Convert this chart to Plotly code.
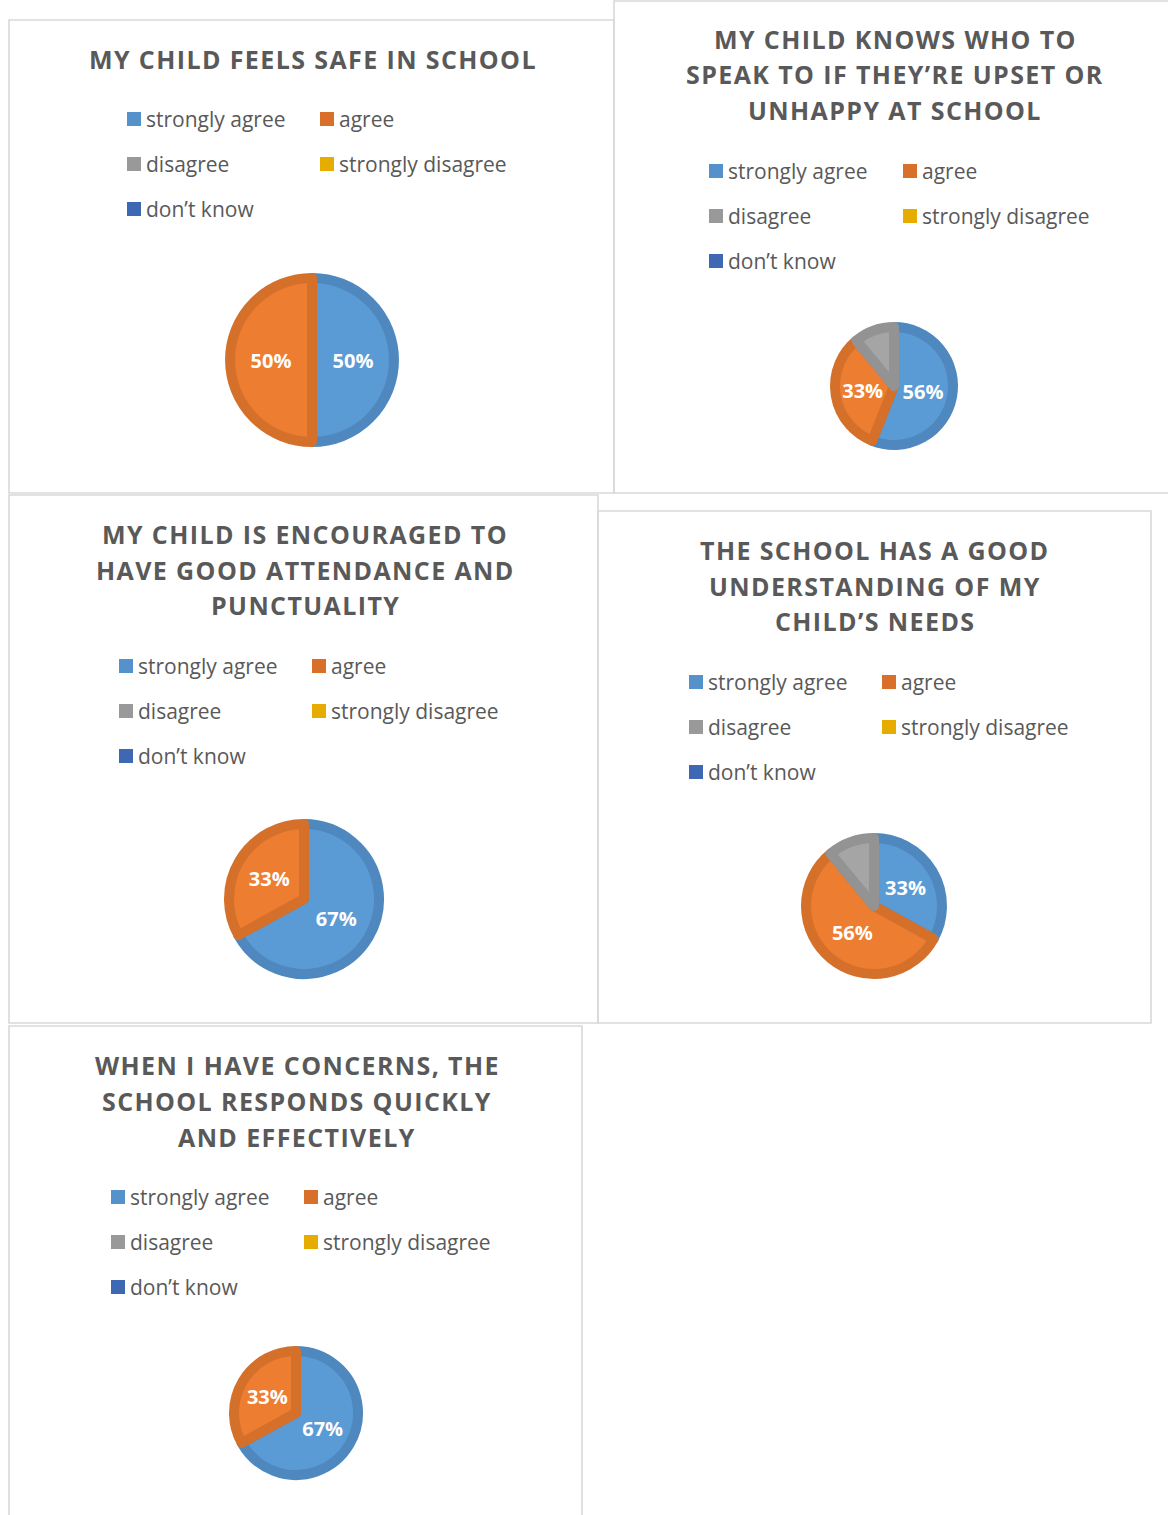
import plotly.graph_objects as go

W, H = 1168, 1515

# ---------------- data ----------------
categories = ["strongly agree", "agree", "disagree", "strongly disagree", "don\u2019t know"]

titles = [
    ["MY CHILD FEELS SAFE IN SCHOOL"],
    ["MY CHILD KNOWS WHO TO", "SPEAK TO IF THEY\u2019RE UPSET OR", "UNHAPPY AT SCHOOL"],
    ["MY CHILD IS ENCOURAGED TO", "HAVE GOOD ATTENDANCE AND", "PUNCTUALITY"],
    ["THE SCHOOL HAS A GOOD", "UNDERSTANDING OF MY", "CHILD\u2019S NEEDS"],
    ["WHEN I HAVE CONCERNS, THE", "SCHOOL RESPONDS QUICKLY", "AND EFFECTIVELY"],
]

safe_values = [50, 50, 0, 0, 0]
knows_values = [56, 33, 11, 0, 0]
attendance_values = [67, 33, 0, 0, 0]
needs_values = [33, 56, 11, 0, 0]
concerns_values = [67, 33, 0, 0, 0]
chart_values = [safe_values, knows_values, attendance_values, needs_values, concerns_values]

# ---------------- styles ----------------
fill_colors = ["#5B9BD5", "#ED7D31", "#A5A5A5", "#FFC000", "#4472C4"]
edge_colors = ["#4E88BF", "#D5702B", "#939393", "#E5AC00", "#3D66B0"]
legend_colors = ["#5592CB", "#D8702C", "#999999", "#E6AC00", "#3F68B4"]
TEXT = "#595959"
FONT = "Open Sans"
LABEL_MIN = 20  # slices below this share carry no label in the original

# layout (pixels)
panels = [
    dict(box=(9, 20, 614, 493), tx=312, ty=[60], lx=(127, 320), ly=(119, 164, 209), pie=(312, 360, 87)),
    dict(box=(614, 1, 1180, 493), tx=894, ty=[40, 75, 111], lx=(709, 903), ly=(171, 216, 261), pie=(894, 386, 64)),
    dict(box=(9, 495, 598, 1023), tx=304, ty=[535, 571, 606], lx=(119, 312), ly=(666, 711, 756), pie=(304, 899, 80)),
    dict(box=(598, 511, 1151, 1023), tx=874, ty=[551, 587, 622], lx=(689, 882), ly=(682, 727, 772), pie=(874, 906, 73)),
    dict(box=(9, 1026, 582, 1540), tx=296, ty=[1066, 1102, 1138], lx=(111, 304), ly=(1197, 1242, 1287), pie=(296, 1413, 67)),
]

RING = 10


def px(x):
    return x / W


def py(y):
    return 1 - y / H


fig = go.Figure()
shapes = []
annotations = []

for p, vals, tlines in zip(panels, chart_values, titles):
    x0, y0, x1, y1 = p["box"]
    shapes.append(dict(type="rect", xref="paper", yref="paper",
                       x0=px(x0), x1=px(x1), y0=py(y1), y1=py(y0),
                       line=dict(color="#D9D9D9", width=1.6), fillcolor="rgba(0,0,0,0)", layer="below"))
    for line, yy in zip(tlines, p["ty"]):
        annotations.append(dict(xref="paper", yref="paper", x=px(p["tx"] + 1), y=py(yy - 1),
                                text='<span style="letter-spacing:1.4px">' + line + '</span>',
                                showarrow=False, xanchor="center", yanchor="middle",
                                font=dict(family=FONT, size=25, color=TEXT, weight=700)))
    # legend
    for i, cat in enumerate(categories):
        col = i % 2
        row = i // 2
        lx = p["lx"][col]
        ly = p["ly"][row]
        shapes.append(dict(type="rect", xref="paper", yref="paper",
                           x0=px(lx), x1=px(lx + 14), y0=py(ly + 7), y1=py(ly - 7),
                           line=dict(width=0), fillcolor=legend_colors[i]))
        annotations.append(dict(xref="paper", yref="paper", x=px(lx + 17), y=py(ly),
                                text=cat, showarrow=False, xanchor="left", yanchor="middle",
                                font=dict(family=FONT, size=21, color=TEXT)))
    # pie
    cx, cy, r = p["pie"]
    rr = r - RING / 2
    idx = [i for i, v in enumerate(vals) if v > 0]
    total = sum(vals)
    fig.add_trace(go.Pie(
        labels=[categories[i] for i in idx],
        values=[vals[i] for i in idx],
        sort=False, direction="clockwise", rotation=0,
        domain=dict(x=[px(cx - rr), px(cx + rr)], y=[py(cy + rr), py(cy - rr)]),
        marker=dict(colors=[fill_colors[i] for i in idx],
                    line=dict(color=[edge_colors[i] for i in idx], width=RING)),
        texttemplate=["%{percent:.0%}" if vals[i] / total * 100 >= LABEL_MIN else "" for i in idx],
        textposition="inside", insidetextorientation="horizontal",
        insidetextfont=dict(family=FONT, size=20, color="white", weight=700),
        showlegend=False, hoverinfo="label+percent",
    ))

fig.update_layout(width=W, height=H, margin=dict(l=0, r=0, t=0, b=0),
                  paper_bgcolor="white", plot_bgcolor="white",
                  shapes=shapes, annotations=annotations, showlegend=False)

fig.write_html("out.html")
